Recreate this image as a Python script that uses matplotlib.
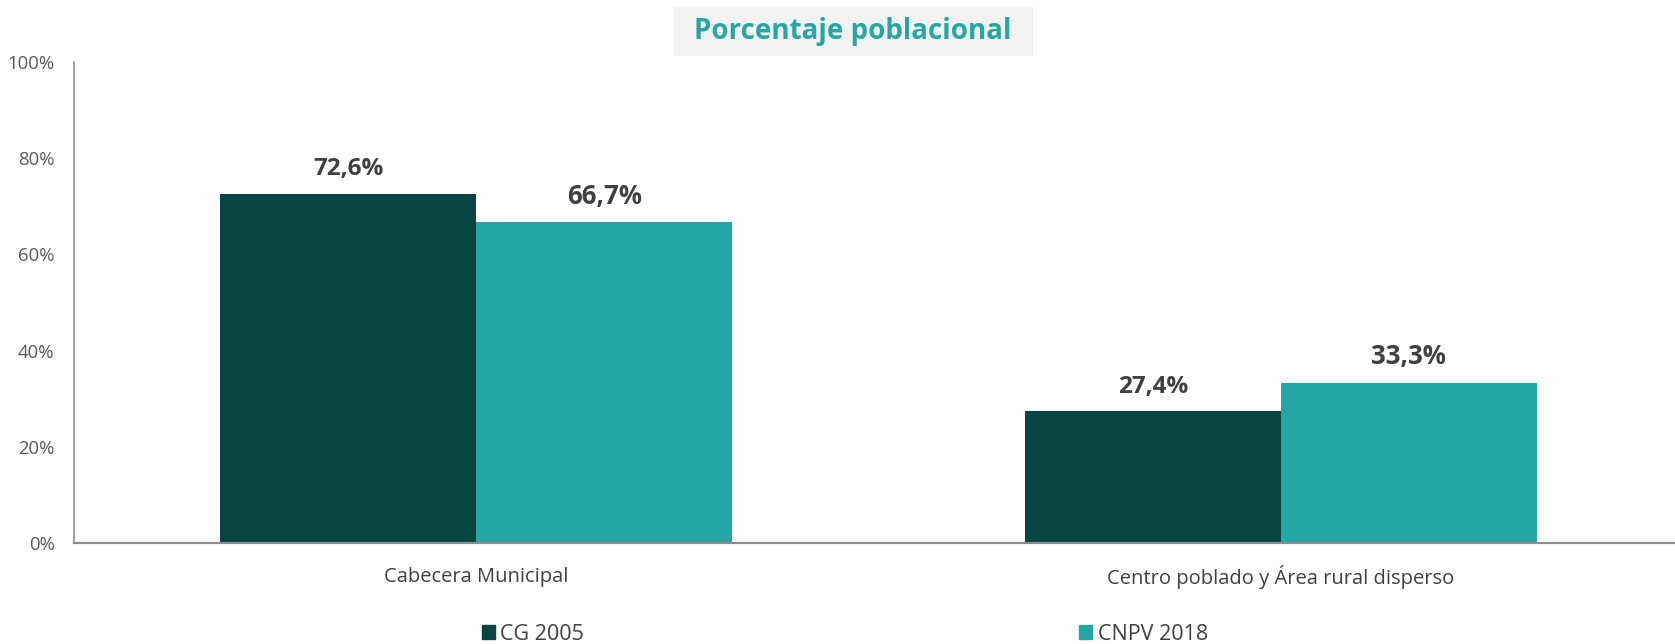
import matplotlib
matplotlib.use("Agg")
import matplotlib.pyplot as plt
import numpy as np
from matplotlib.patches import Patch, Rectangle

plt.rcParams['font.family'] = ['Open Sans', 'DejaVu Sans']

categories = ["Cabecera Municipal", "Centro poblado y Área rural disperso"]
series_names = ["CG 2005", "CNPV 2018"]
cg_2005 = [72.6, 27.4]
cnpv_2018 = [66.7, 33.3]
value_labels_2005 = ["72,6%", "27,4%"]
value_labels_2018 = ["66,7%", "33,3%"]
y_ticks = [0, 20, 40, 60, 80, 100]

dark = "#074442"
teal = "#24A6A5"


def main():
    fig = plt.figure(figsize=(16.75, 6.44), dpi=100)
    ax = fig.add_axes([74 / 1675, 1 - 543 / 644, 1 - 74 / 1675, (543 - 62) / 644])

    x = np.arange(len(categories))
    w = 0.318
    b1 = ax.bar(x - w / 2, cg_2005, w, color=dark, label=series_names[0])
    b2 = ax.bar(x + w / 2, cnpv_2018, w, color=teal, label=series_names[1])

    for rect, lab in zip(b1, value_labels_2005):
        ax.annotate(lab, (rect.get_x() + rect.get_width() / 2, rect.get_height()),
                    xytext=(0, 9), textcoords="offset points", ha="center", va="bottom",
                    fontsize=17.5, fontweight="bold", color="#404040")
    for rect, lab in zip(b2, value_labels_2018):
        ax.annotate(lab, (rect.get_x() + rect.get_width() / 2, rect.get_height()),
                    xytext=(0, 9), textcoords="offset points", ha="center", va="bottom",
                    fontsize=18.5, fontweight="bold", color="#404040")

    ax.set_xlim(-0.5, 1.49)
    ax.set_ylim(0, 100)
    ax.set_yticks(y_ticks)
    ax.set_yticklabels([f"{t}%" for t in y_ticks])
    ax.set_xticks(x)
    ax.set_xticklabels([])
    ax.tick_params(axis="y", length=0, pad=14, labelsize=13.3, labelcolor="#595959")
    ax.tick_params(axis="x", length=0)
    for xi, cat in zip(x, categories):
        ax.text(xi, -7.0, cat, ha="center", va="center", fontsize=14.5, color="#404040")

    for s in ["top", "right"]:
        ax.spines[s].set_visible(False)
    ax.spines["left"].set_color("#8c8c8c")
    ax.spines["left"].set_linewidth(1.2)
    ax.spines["bottom"].set_color("#8c8c8c")
    ax.spines["bottom"].set_linewidth(1.6)

    fig.patches.append(Rectangle((674 / 1675, 1 - 56 / 644), (1033 - 674) / 1675, 49 / 644,
                                 transform=fig.transFigure, facecolor="#F2F2F2", edgecolor="none"))
    fig.text(853 / 1675, 1 - 31 / 644, "Porcentaje poblacional", ha="center", va="center",
             fontsize=20, fontweight="bold", color="#25A8A4")

    handles = [Patch(color=dark), Patch(color=teal)]
    fig.legend(handles, series_names, loc="center", bbox_to_anchor=(845 / 1675, 1 - 634 / 644),
               ncol=2, frameon=False, fontsize=15.5, handlelength=0.6, handleheight=0.6,
               handletextpad=0.25, columnspacing=23.0, labelcolor="#404040")

    fig.savefig("out.png", dpi=100)


if __name__ == "__main__":
    main()
